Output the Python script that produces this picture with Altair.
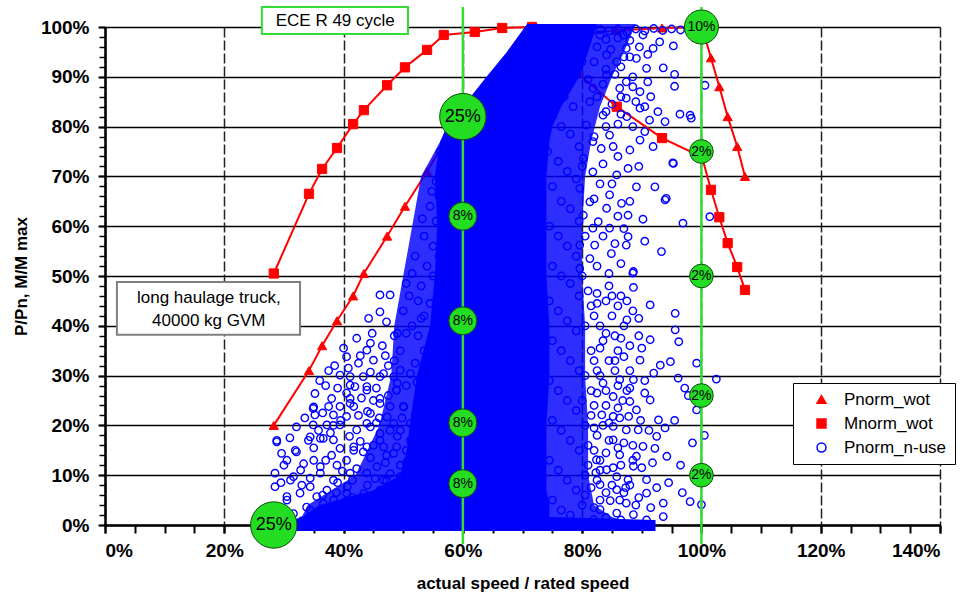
import altair as alt
import pandas as pd

FONT = "Arial, Liberation Sans, sans-serif"

# ---- full-load (wot) curves ----
wot_speed = [28.3, 34.2, 36.4, 38.9, 41.6, 43.4, 47.3, 50.3, 54.0, 56.8, 62.0, 66.6, 71.6, 76.0, 79.0,
             85.8, 93.4, 100.1, 101.6, 103.0, 104.4, 106.0, 107.3]
pnorm_wot = [20.0, 31.0, 36.0, 41.0, 46.0, 50.5, 58.0, 64.0, 71.0, 76.7, 83.0, 90.0, 96.5, 97.5, 98.5,
             99.3, 99.8, 100.0, 93.8, 88.0, 82.0, 76.0, 70.0]
mnorm_wot = [50.5, 66.5, 71.5, 75.7, 80.5, 83.3, 88.3, 91.9, 95.4, 98.4, 99.0, 99.8, 100.0, 95.5, 91.0,
             84.0, 77.7, 73.9, 67.3, 61.8, 56.6, 51.8, 47.2]

# ---- in-use operating points ----
# solid core of overlapping points (band: power level -> left / right speed)
core_power = [-1.2, 1.0, 1.6, 4, 7, 10, 15, 20, 30, 40, 50, 60, 70, 77, 80, 84, 90, 95, 100.6]
core_left = [31.5, 31.5, 33, 36, 45, 49.5, 50.6, 51.1, 52.3, 54.5, 55.3, 55.7, 55.3, 56.2, 57.3, 60.0, 64.0, 67.4, 70.8]
core_right = [92.3, 92.3, 74.5, 74.5, 74, 74, 74, 74, 74.5, 74.5, 74, 74, 74, 74.5, 75, 76.5, 79.5, 81, 82.5]
# speckled, nearly solid zone around the core
dense_power = [-1.2, 1.6, 4, 10, 20, 30, 40, 50, 60, 70, 77, 84, 90, 95, 100.6]
dense_left = [31.5, 33, 34, 42, 46, 48, 48.5, 50, 51.5, 53, 56.2, 60.0, 64.0, 67.4, 70.8]
dense_right = [92.3, 85, 82, 81, 81, 80.5, 80.5, 80, 80, 80.5, 81.5, 83, 85, 87, 89]

use_speed = [
    46.1, 47.8, 44.2, 46.1, 47.2, 42.2, 40.5, 43.9, 45.0, 41.1, 43.3, 39.4, 46.1, 48.4, 49.5, 41.9, 43.9, 48.9,
    35.2, 38.0, 41.1, 34.9, 37.5, 39.4, 41.7, 46.1, 47.8, 50.0, 35.2, 38.3, 40.5, 32.1, 34.9, 37.2, 39.4, 42.2,
    43.9, 46.1, 48.4, 28.8, 29.6, 32.1, 34.4, 36.1, 38.3, 39.4, 41.7, 43.3, 46.7, 48.4, 28.5, 31.6, 34.4, 36.1,
    38.3, 41.1, 43.9, 46.7, 49.5, 28.5, 30.5, 32.7, 35.5, 38.3, 40.5, 42.8, 45.0, 47.8, 50.6, 31.6, 34.4, 37.7,
    40.0, 42.8, 46.1, 48.9,
    44.5, 46.7, 51.2, 52.3, 48.9, 46.1, 43.9, 41.1, 35.0, 41.1, 44.5, 47.3, 50.1, 51.2, 47.8, 44.5, 38.3, 28.8,
    31.9, 34.1, 36.6, 41.7, 43.9, 46.1, 48.9, 51.2, 53.4, 52.3, 33.3, 36.1, 38.9, 42.2, 45.6, 47.8, 50.6, 54.0,
    31.1, 34.4, 37.2, 40.6, 43.4, 46.1, 48.9, 51.7, 30.5, 33.8, 36.6, 40.0, 42.8, 46.1, 49.5,
    52.5, 53.5, 52.0, 54.0, 53.0, 54.5, 52.8, 54.5, 53.0, 52.0, 53.5, 51.5, 54.0, 50.5, 52.0, 50.5, 49.5, 53.5,
    50.5, 48.5,
    52.5, 53.0, 51.0, 54.0, 52.0, 55.0, 53.5, 55.5, 54.5, 56.0, 55.5, 56.5, 50.0, 51.5, 53.0, 49.0, 54.5, 55.0,
    56.0, 53.2, 51.5, 50.5, 54.8, 56.2,
    83.0, 84.5, 86.0, 87.5, 89.0, 90.5, 92.0, 93.5, 95.0, 96.5, 84.0, 86.0, 88.0, 90.2, 86.9, 83.0, 91.9, 89.1,
    87.4, 85.8, 84.1, 95.3,
    93.6, 95.5, 95.5, 100.6, 92.7, 96.4, 98.3, 93.9, 91.3, 89.7, 87.4, 89.7, 90.8, 87.4, 86.3, 84.6, 89.7, 88.0,
    85.2, 91.9, 95.3, 87.7, 83.2, 89.1, 92.2, 94.1, 86.6, 84.6, 87.7, 90.2, 96.9, 101.4, 82.7, 84.6, 87.7, 87.4,
    93.3, 84.9, 82.1, 88.6, 84.1, 81.8, 81.3, 83.5, 80.7, 81.8, 80.2, 81.8, 79.6, 81.3, 80.2, 81.8, 79.6, 81.3,
    84.1, 85.8, 79.6, 98.1, 95.2, 93.9, 88.5, 86.0, 83.0, 86.5, 90.5,
    88.6, 91.4, 95.6, 95.6, 96.2, 87.5, 91.4, 87.0, 89.7, 93.1, 94.8, 99.2, 96.1, 102.5, 97.2, 99.2, 91.4, 88.6,
    86.3, 85.2, 88.0, 89.1, 83.3, 85.2, 86.3, 92.8, 93.9, 87.4, 89.4, 85.2, 92.5, 85.2, 90.2, 92.2, 94.2, 86.3,
    89.1, 88.6, 82.4, 84.1, 85.8, 87.7, 90.8, 83.0, 85.8, 90.8, 93.6, 98.1, 100.0, 87.4, 84.7, 83.0, 85.8, 88.6,
    93.6, 81.9, 90.8, 80.5, 81.5, 82.0, 80.5, 81.0, 82.5, 81.0, 82.5, 80.5, 83.0, 81.5, 83.0, 84.0, 82.0, 83.5,
    82.0, 84.0, 81.0, 83.0, 85.5, 86.0,
    74.5, 75.5, 77.0, 78.5, 75.0, 76.5, 78.0, 79.5, 74.2, 76.0, 77.5, 79.0, 75.0, 76.5, 78.0, 79.5, 74.5, 76.0,
    77.5, 79.0, 75.0, 76.5, 78.0, 79.5, 74.5, 76.0, 77.5, 79.0, 75.0, 76.5, 78.0, 79.5, 74.5, 76.0, 77.5, 79.0,
    75.0, 76.5, 78.0, 79.5, 74.5, 76.0, 77.5, 79.0, 75.0, 76.5, 78.0, 80.0, 80.5, 80.0, 80.5, 80.0, 80.5, 80.0,
    81.0, 80.0, 78.5, 77.0, 79.0,
    81.5, 82.5, 84.5, 86.5, 85.0, 87.0, 88.0, 86.0, 84.5, 82.5, 85.5, 87.5, 86.0, 84.0, 82.5, 83.5, 81.5, 84.5,
    87.0, 88.5, 86.5, 84.0, 82.0, 83.0, 85.0, 87.0, 89.0, 82.0, 84.0, 86.5, 88.0, 81.5, 86.0, 83.0, 88.5, 89.5,
    90.5, 88.0,
    82.0, 84.0, 86.5, 88.5, 82.5, 85.0, 87.5, 84.0, 82.0, 86.0, 83.5, 85.0, 82.0, 86.0, 83.5, 85.5, 82.5, 84.5,
    87.0, 88.0, 89.5, 90.5, 91.5, 88.0,
    38.5, 40.0, 42.5, 44.5, 47.0, 48.5, 45.5, 40.5, 37.0, 36.5, 42.5, 45.5, 49.5, 38.0, 40.5, 44.5, 47.0, 49.5,
    35.0, 33.0, 36.5, 39.0, 41.5, 44.0, 46.5, 48.5, 30.0, 29.5, 28.8, 33.0,
    36.0, 37.5, 39.0, 40.8, 42.8, 44.8, 46.5, 47.5, 49.0, 47.5, 45.0, 43.0, 39.5, 37.8, 35.8, 33.5, 31.0, 30.5,
    32.8, 35.0, 37.0, 39.8, 41.0, 42.8, 45.0, 47.2, 49.0, 50.5, 49.8, 46.0, 44.0, 40.0, 37.0, 39.0, 43.0, 45.5,
    48.0, 44.5, 41.5, 34.5, 31.0, 29.5, 38.8, 47.2, 45.3,
    82.5, 85.0, 87.5, 89.5, 84.0, 86.5, 90.0, 92.0, 85.5, 88.0, 90.5, 83.5, 86.8, 89.8, 91.2, 84.5, 87.8, 82.0,
    86.0, 88.5, 90.0, 91.8, 83.0, 85.2, 87.3, 89.5, 91.5, 92.5, 86.3, 84.0, 82.3, 94.5, 96.5, 98.5, 95.5, 97.8,
    100.5, 96.8,
    82.5, 84.8, 87.0, 89.6, 91.0, 93.0, 85.5, 88.5, 91.0, 83.5, 86.5, 89.0, 84.0, 86.5, 88.5, 90.5,
]
use_power = [
    46.2, 46.2, 41.5, 42.8, 40.8, 37.5, 33.8, 35.1, 33.1, 29.8, 29.8, 30.1, 29.8, 29.8, 31.1, 27.8, 27.8, 27.1,
    26.4, 25.4, 25.4, 23.4, 23.8, 23.8, 23.8, 24.4, 23.8, 23.8, 22.1, 22.1, 21.8, 19.7, 20.1, 20.1, 20.1, 19.1,
    20.4, 18.4, 20.4, 16.7, 14.4, 14.7, 17.7, 17.4, 17.1, 15.4, 15.7, 14.7, 15.7, 14.4, 10.4, 9.7, 9.4, 10.4,
    9.0, 10.4, 10.4, 9.0, 9.7, 7.7, 5.7, 6.4, 5.7, 5.0, 6.4, 5.0, 5.7, 6.4, 5.0, 2.3, 3.0, 2.3,
    1.7, 3.0, 2.3, 2.3,
    30.7, 30.4, 30.4, 28.7, 27.1, 25.4, 27.1, 28.1, 23.7, 24.4, 22.4, 21.7, 23.7, 20.4, 19.0, 19.7, 20.0, 17.0,
    15.0, 17.0, 17.4, 15.0, 15.7, 17.0, 15.7, 17.0, 17.7, 14.3, 12.3, 11.7, 12.0, 11.3, 11.7, 10.3, 9.7, 10.3,
    9.0, 7.7, 7.0, 7.7, 6.3, 7.0, 5.6, 6.3, 5.0, 3.6, 4.3, 3.0, 3.6, 3.0, 3.6,
    38.0, 35.0, 32.5, 31.0, 25.0, 22.0, 19.0, 13.0, 12.0, 8.0, 4.0, 2.5, 2.0, 12.5, 22.0, 28.0, 35.0, 42.0,
    38.5, 33.0,
    45.0, 48.0, 46.0, 52.0, 54.0, 56.0, 58.0, 61.0, 64.0, 66.0, 69.0, 72.0, 43.0, 40.0, 41.5, 38.5, 44.5, 50.0,
    54.0, 61.5, 50.5, 48.5, 67.0, 75.0,
    99.5, 99.2, 99.6, 99.0, 99.6, 99.2, 99.7, 99.3, 99.6, 99.4, 97.5, 97.8, 97.3, 98.4, 98.4, 98.4, 95.7, 93.7,
    95.7, 93.0, 94.4, 96.2,
    91.8, 90.5, 88.1, 88.3, 83.0, 82.5, 81.7, 81.0, 81.3, 83.7, 85.7, 87.0, 91.7, 89.0, 87.7, 78.3, 77.3, 75.3,
    76.0, 76.0, 72.6, 71.6, 75.6, 67.9, 67.9, 65.6, 64.6, 66.3, 62.2, 61.4, 60.6, 61.9, 60.9, 59.6, 57.9, 56.2,
    54.9, 54.5, 56.2, 50.9, 90.4, 87.7, 85.0, 82.3, 80.3, 77.0, 73.6, 70.9, 67.6, 64.9, 62.2, 59.6, 56.2, 53.5,
    63.6, 70.3, 51.5, 82.3, 72.7, 65.3, 50.6, 80.5, 68.5, 52.5, 57.0,
    47.7, 44.2, 42.5, 39.2, 36.8, 41.2, 37.2, 33.8, 33.1, 32.1, 32.8, 32.5, 29.5, 29.3, 27.5, 23.1, 25.1, 29.2,
    29.2, 25.8, 24.8, 23.1, 22.1, 21.8, 21.5, 21.1, 19.5, 19.1, 19.1, 19.8, 17.8, 17.1, 15.8, 15.4, 13.8, 14.1,
    13.8, 11.8, 13.1, 11.1, 9.7, 9.1, 9.1, 8.1, 7.1, 6.4, 4.4, 4.7, 4.1, 4.4, 4.9, 3.1, 2.4, 2.1,
    1.7, 1.1, 1.0, 30.0, 27.0, 24.0, 20.0, 16.0, 18.0, 12.0, 9.0, 6.0, 5.0, 35.0, 30.0, 27.0, 33.0, 37.0,
    42.0, 45.0, 47.0, 40.0, 38.0, 44.0,
    93.0, 88.5, 86.0, 84.0, 82.0, 80.0, 78.5, 76.0, 75.0, 73.0, 71.0, 69.5, 68.0, 65.0, 63.5, 61.0, 60.0, 58.0,
    56.0, 54.0, 52.0, 50.0, 48.5, 46.0, 45.0, 43.0, 41.0, 39.0, 37.0, 35.0, 33.0, 31.0, 29.0, 27.0, 25.0, 23.0,
    21.0, 19.0, 17.0, 15.0, 13.0, 11.0, 9.0, 7.0, 5.0, 3.0, 2.0, 4.0, 10.0, 25.0, 40.0, 50.0, 58.0, 72.0,
    89.5, 93.0, 96.0, 97.5, 99.0,
    44.0, 46.5, 48.0, 46.0, 42.0, 40.0, 36.0, 35.0, 33.0, 31.0, 31.0, 27.0, 23.5, 24.0, 26.5, 20.0, 22.0, 17.0,
    16.5, 16.0, 12.0, 14.5, 15.0, 11.0, 8.0, 6.5, 4.0, 3.5, 1.5, 1.0, 8.0, 7.5, 28.0, 35.5, 43.0, 38.0,
    29.0, 31.0,
    93.0, 91.5, 92.0, 90.0, 86.0, 84.5, 82.0, 80.0, 78.0, 74.0, 72.5, 68.5, 65.5, 62.0, 58.0, 56.5, 52.0, 50.5,
    59.5, 65.0, 72.0, 79.0, 86.0, 94.0,
    32.0, 35.5, 32.5, 36.5, 34.0, 38.0, 27.5, 26.5, 28.0, 22.5, 22.0, 20.5, 19.0, 14.0, 13.0, 13.5, 12.5, 12.0,
    13.0, 8.0, 6.0, 8.5, 9.0, 8.0, 4.5, 7.5, 12.0, 3.5, 1.5, 0.8,
    29.0, 31.0, 27.5, 31.5, 34.0, 38.5, 36.0, 32.0, 28.5, 26.0, 25.0, 25.5, 21.0, 18.5, 19.0, 21.5, 17.5, 13.0,
    11.0, 15.5, 13.0, 10.8, 17.8, 16.8, 16.0, 14.0, 17.8, 15.0, 21.5, 21.5, 22.8, 4.5, 0.9, 1.0, 1.2, 1.5,
    1.0, 5.0, 5.5, 1.5, 0.9, 8.5, 6.5, 8.8, 9.3,
    44.5, 46.0, 45.0, 41.5, 38.5, 37.5, 35.5, 30.5, 33.0, 27.5, 26.5, 28.5, 25.0, 21.0, 19.0, 20.5, 21.8, 19.5,
    15.5, 13.0, 11.5, 12.5, 13.0, 11.5, 7.5, 5.5, 3.5, 7.5, 5.0, 6.5, 10.5, 8.5, 12.0, 16.5, 21.0, 26.0,
    18.0, 6.5,
    96.0, 95.5, 94.0, 96.0, 94.5, 97.0, 90.5, 88.0, 89.0, 88.5, 86.0, 85.0, 83.0, 82.5, 80.0, 84.0,
]

# ---- ECE R49 13-mode cycle: mode points and weighting factors ----
ece_speed = [28.3, 60, 60, 60, 60, 60, 100, 100, 100, 100, 100]
ece_power = [0, 82, 62, 41, 20.5, 8.3, 100, 75, 50, 26, 10]
ece_weight = [25, 25, 8, 8, 8, 8, 10, 2, 2, 2, 2]
ece_line_speed = [60, 100]

series_names = ["Pnorm_wot", "Mnorm_wot", "Pnorm_n-use"]
x_ticks = [0, 20, 40, 60, 80, 100, 120, 140]
x_minor = [0, 5, 10, 15, 20, 25, 30, 35, 40, 45, 50, 55, 60, 65, 70, 75, 80, 85, 90, 95, 100,
           105, 110, 115, 120, 125, 130, 135, 140]
y_ticks = [0, 10, 20, 30, 40, 50, 60, 70, 80, 90, 100]
y_minor = [v * 2 for v in range(51)]

# annotations
ece_title = ["ECE R 49 cycle"]
truck_lines = ["long haulage truck,", "40000 kg GVM"]

# ---------------- data frames ----------------
wot_df = pd.concat([
    pd.DataFrame({"speed": wot_speed, "value": pnorm_wot, "series": "Pnorm_wot"}),
    pd.DataFrame({"speed": wot_speed, "value": mnorm_wot, "series": "Mnorm_wot"}),
], ignore_index=True)
use_df = pd.DataFrame({"speed": use_speed, "value": use_power, "series": "Pnorm_n-use"})
core_df = pd.DataFrame({"p": core_power, "l": core_left, "r": core_right})
dense_df = pd.DataFrame({"p": dense_power, "l": dense_left, "r": dense_right})
ece_df = pd.DataFrame({"speed": ece_speed, "value": ece_power, "weight": ece_weight})
ece_df["label"] = ece_df["weight"].astype(str) + "%"
line_df = pd.DataFrame({"speed": ece_line_speed, "top": [104.0, 104.0], "bottom": [-3.8, -3.8]})
ece_box_df = pd.DataFrame({"x1": [26.3], "x2": [50.8], "y1": [98.6], "y2": [104.0],
                           "tx": [38.6], "ty": [101.2], "text": ece_title})
truck_box_df = pd.DataFrame({"x1": [2.0], "x2": [32.7], "y1": [38.2], "y2": [48.8]})
truck_text_df = pd.DataFrame({"x": [17.4, 17.4], "y": [45.6, 40.9], "text": truck_lines})

XS = alt.Scale(domain=[0, 140], nice=False, zero=False)
YS = alt.Scale(domain=[0, 100], nice=False, zero=False)

x_major_axis = alt.Axis(values=x_ticks, labelExpr="datum.value + '%'", title="actual speed / rated speed",
                        orient="bottom", grid=True, gridColor="#222222", gridDash=[10, 3], gridWidth=1.5,
                        domainColor="black", domainWidth=2.5, tickColor="black", tickWidth=2, tickSize=8,
                        labelFont=FONT, labelFontWeight="bold", labelFontSize=19, labelColor="black",
                        labelPadding=8, titleFont=FONT, titleFontWeight="bold", titleFontSize=17,
                        titleColor="black", titleY=58, titleBaseline="middle")
y_major_axis = alt.Axis(values=y_ticks, labelExpr="datum.value + '%'", title="P/Pn, M/M max",
                        orient="left", grid=True, gridColor="black", gridWidth=1.6,
                        domainColor="black", domainWidth=2.5, tickColor="black", tickWidth=2, tickSize=7,
                        labelFont=FONT, labelFontWeight="bold", labelFontSize=19, labelColor="black",
                        labelPadding=9, titleFont=FONT, titleFontWeight="bold", titleFontSize=17,
                        titleColor="black", titleX=-84, titleY=249, titleAngle=270, titleAlign="center",
                        titleBaseline="middle")
x_minor_axis = alt.Axis(values=x_minor, labels=False, ticks=True, tickSize=8, tickWidth=2, tickColor="black",
                        domain=False, grid=False, title=None, orient="bottom")
y_minor_axis = alt.Axis(values=y_minor, labels=False, ticks=True, tickSize=6, tickWidth=1.5, tickColor="black",
                        domain=False, grid=False, title=None, orient="left")


def X(field, axis=None):
    return alt.X(field, type="quantitative", scale=XS, axis=axis)


def Y(field, axis=None):
    return alt.Y(field, type="quantitative", scale=YS, axis=axis)


shape_scale = alt.Scale(domain=series_names, range=["triangle-up", "square", "circle"])
fill_scale = alt.Scale(domain=series_names, range=["#ff0000", "#ff0000", "transparent"])
stroke_scale = alt.Scale(domain=series_names, range=["#ff0000", "#ff0000", "#0000ff"])

legend = alt.Legend(orient="none", legendX=688, legendY=356, title=None, strokeColor="black",
                    fillColor="white", padding=8, labelFont=FONT, labelFontSize=17, labelColor="black",
                    symbolSize=80, symbolStrokeWidth=1.5, rowPadding=6, symbolOffset=12, labelOffset=14)

red_lines = alt.Chart(wot_df).mark_line(color="#ff0000", strokeWidth=2).encode(
    x=X("speed", x_major_axis), y=Y("value", y_major_axis), detail="series:N")

red_points = alt.Chart(wot_df).mark_point(filled=True, size=85, opacity=1, strokeWidth=1).encode(
    x=X("speed"), y=Y("value"),
    shape=alt.Shape("series:N", scale=shape_scale, legend=legend),
    fill=alt.Fill("series:N", scale=fill_scale, legend=legend),
    stroke=alt.Stroke("series:N", scale=stroke_scale, legend=legend))

dense = alt.Chart(dense_df).mark_area(orient="horizontal", color="#0000ff", opacity=0.82).encode(
    y=Y("p"), x=X("l"), x2=alt.X2("r"))

core = alt.Chart(core_df).mark_area(orient="horizontal", color="#0000ff", opacity=1).encode(
    y=Y("p"), x=X("l"), x2=alt.X2("r"))

use_points = alt.Chart(use_df).mark_point(filled=True, size=55, opacity=1, strokeWidth=1.4).encode(
    x=X("speed"), y=Y("value"),
    shape=alt.Shape("series:N", scale=shape_scale, legend=None),
    fill=alt.Fill("series:N", scale=fill_scale, legend=None),
    stroke=alt.Stroke("series:N", scale=stroke_scale, legend=None))

truck_box = alt.Chart(truck_box_df).mark_rect(fill="white", stroke="#808080", strokeWidth=2).encode(
    x=X("x1"), x2="x2", y=Y("y1"), y2="y2")
truck_text = alt.Chart(truck_text_df).mark_text(font=FONT, fontSize=17, color="black").encode(
    x=X("x"), y=Y("y"), text="text:N")

green_lines = alt.Chart(line_df).mark_rule(color="#33dd33", strokeWidth=2.5).encode(
    x=X("speed", x_minor_axis), y=Y("top", y_minor_axis), y2="bottom")

ece_box = alt.Chart(ece_box_df).mark_rect(fill="white", stroke="#33dd33", strokeWidth=2).encode(
    x=X("x1"), x2="x2", y=Y("y1"), y2="y2")
ece_text = alt.Chart(ece_box_df).mark_text(font=FONT, fontSize=17, color="black").encode(
    x=X("tx"), y=Y("ty"), text="text:N")

bubbles = alt.Chart(ece_df).mark_circle(fill="#22dd22", stroke="#0b4d0b", strokeWidth=1, opacity=1).encode(
    x=X("speed"), y=Y("value"),
    size=alt.Size("weight:Q", scale=alt.Scale(domain=[2, 8, 10, 25], range=[560, 784, 1156, 2150]),
                  legend=None))
big_labels = alt.Chart(ece_df).transform_filter("datum.weight >= 20").mark_text(
    font=FONT, fontSize=18, color="black").encode(x=X("speed"), y=Y("value"), text="label:N")
small_labels = alt.Chart(ece_df).transform_filter("datum.weight < 20").mark_text(
    font=FONT, fontSize=14, color="black").encode(x=X("speed"), y=Y("value"), text="label:N")

chart = alt.layer(
    red_lines, red_points, dense, core, use_points, truck_box, truck_text, green_lines,
    ece_box, ece_text, bubbles, big_labels, small_labels
).resolve_axis(x="independent", y="independent").properties(
    width=835, height=498,
    autosize=alt.AutoSizeParams(type="none"),
    padding={"left": 105, "top": 27, "right": 26, "bottom": 74},
    background="white",
).configure_view(stroke=None)

chart.save("out.html", embed_options={"renderer": "svg", "actions": False})
